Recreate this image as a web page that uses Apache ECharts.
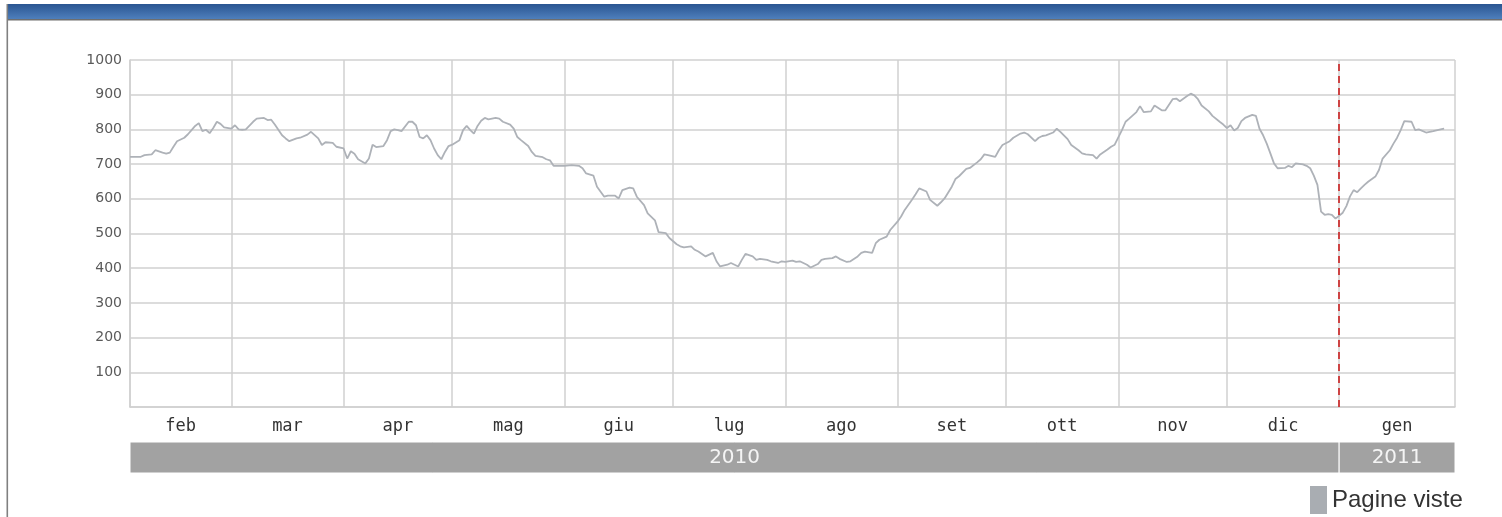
<!DOCTYPE html>
<html>
<head>
<meta charset="utf-8">
<script src="https://cdn.jsdelivr.net/npm/echarts@6/dist/echarts.min.js"></script>
<style>
html,body{margin:0;padding:0;background:#fff;}
#chart{width:1502px;height:517px;}
</style>
</head>
<body>
<div id="chart"></div>
<script>
// ---- data ----
const seriesName = 'Pagine viste';
const monthLabels = ['feb','mar','apr','mag','giu','lug','ago','set','ott','nov','dic','gen'];
const yearLabels = ['2010','2011'];
const yTicks = [100,200,300,400,500,600,700,800,900,1000];
// days counted from 1 Feb 2010
const dayOffsets = [
0,3,4,6,7,9,10,11,12,13,15,16,17,18,19,20,21,22,23,24,25,26,28,29,30,31,32,34,35,37,38,39,40,42,43,44,46,47,49,50,52,53,54,56,57,59,60,61,62,63,65,66,67,68,70,71,72,
73,74,75,77,78,79,80,81,82,83,84,85,86,87,88,89,91,92,93,94,95,96,97,98,99,101,102,103,105,106,107,108,110,111,112,114,115,116,117,119,120,122,124,125,126,128,129,131,132,134,135,136,138,139,140,142,143,145,146,
148,149,151,152,153,155,156,157,159,160,161,162,163,165,166,168,169,170,172,173,174,176,177,179,180,181,183,184,185,187,188,190,191,192,194,195,196,198,199,201,202,203,205,206,207,209,210,212,213,214,216,217,218,220,
221,223,224,225,227,228,229,231,232,234,235,236,237,239,240,241,243,244,246,247,248,250,251,252,253,255,256,257,259,260,262,263,264,266,267,268,270,271,272,274,275,276,278,279,280,282,283,285,286,288,289,290,292,
293,294,295,296,298,299,301,302,303,304,305,306,307,308,310,311,312,313,314,315,316,317,319,320,321,322,324,325,326,327,328,329,330,331,332,333,335,336,337,338,339,340,341,342,344,345,346,348,349,350,351,352,354,355,356,358,359,360,362,363
];
const pageViews = [
721,721,726,728,740,733,730,733,750,766,776,786,798,810,818,795,799,789,804,822,816,806,802,812,800,799,800,822,831,833,827,828,814,783,774,766,774,776,785,793,774,755,763,761,750,745,716,737,730,714,702,716,756,749,752,769,795,
800,798,795,822,822,812,778,774,783,769,745,726,714,735,752,756,769,798,810,798,788,810,825,833,829,833,831,822,814,802,778,769,752,735,724,720,714,711,695,695,695,697,695,688,673,667,635,606,609,609,601,625,632,630,606,582,558,538,504,
501,487,469,463,460,463,453,448,434,439,444,420,405,410,415,405,424,441,434,424,427,424,420,415,420,418,422,418,420,410,402,412,424,427,429,434,427,418,420,434,444,448,444,472,482,491,510,534,549,568,597,613,630,621,
597,580,590,601,635,657,665,686,689,705,714,728,726,721,740,755,766,776,788,791,786,766,776,781,783,791,802,793,772,755,740,731,728,726,716,728,742,750,756,798,822,831,850,867,850,852,869,855,855,887,889,881,896,
903,898,887,869,852,839,822,814,804,812,797,804,824,833,842,839,802,783,759,731,702,688,689,695,691,702,699,695,688,667,640,563,554,556,554,543,560,579,607,625,619,630,640,649,664,683,716,740,759,776,798,824,822,798,800,791,793,795,800,802
];

// ---- build ----
const DAY = 86400000;
const startT = Date.UTC(2010, 1, 1);
const toDay = t => Math.round((t - startT) / DAY);
const monthStarts = [];   // in days from 1 Feb 2010
for (let i = 0; i < 12; i++) monthStarts.push(toDay(Date.UTC(2010, 1 + i, 1)));
const axisEnd = toDay(Date.UTC(2011, 1, 2));   // axis runs to 2 Feb 2011
const boundaries = monthStarts.concat([axisEnd]);
const monthMids = [];
for (let i = 0; i < 12; i++) monthMids.push((boundaries[i] + boundaries[i + 1]) / 2);
const jan2011 = monthStarts[11];
const lineData = dayOffsets.map((d, i) => [d, pageViews[i]]);

const gridCol = '#d0d0d0';
const chart = echarts.init(document.getElementById('chart'), null, {renderer: 'canvas'});
chart.setOption({
  animation: false,
  backgroundColor: '#fff',
  graphic: [
    {type: 'rect', shape: {x: 7, y: 4, width: 1495, height: 15},
     style: {fill: new echarts.graphic.LinearGradient(0, 0, 0, 1, [
       {offset: 0, color: '#2a5591'}, {offset: 1, color: '#4e7fbc'}])}},
    {type: 'rect', shape: {x: 7, y: 19, width: 1495, height: 1.5}, style: {fill: '#6e6e6e'}},
    {type: 'rect', shape: {x: 6.5, y: 4, width: 1.6, height: 513}, style: {fill: '#808080'}}
  ],
  legend: {
    data: [seriesName],
    left: 1310, top: 486, padding: 0,
    icon: 'rect', itemWidth: 17, itemHeight: 28, itemGap: 6,
    itemStyle: {color: '#a9adb2'},
    textStyle: {fontFamily: 'Liberation Sans', fontSize: 24, color: '#333'}
  },
  grid: [
    {left: 130, right: 47, top: 60, bottom: 110, show: false},
    {left: 130, right: 47, top: 442, height: 31, show: false}
  ],
  xAxis: [
    {
      type: 'value', gridIndex: 0, min: 0, max: axisEnd,
      axisLine: {show: true, lineStyle: {color: gridCol, width: 1.5}},
      axisTick: {show: false, customValues: boundaries},
      splitLine: {show: true, lineStyle: {color: gridCol, width: 1.5}},
      axisLabel: {
        customValues: monthMids,
        formatter: (v) => monthLabels[monthMids.indexOf(v)],
        fontFamily: 'DejaVu Sans Mono', fontSize: 17, color: '#333333', margin: 11
      }
    },
    {
      type: 'value', gridIndex: 1, min: 0, max: axisEnd, show: false
    }
  ],
  yAxis: [
    {
      type: 'value', gridIndex: 0, min: 0, max: 1000, interval: 100,
      axisLine: {show: true, lineStyle: {color: gridCol, width: 1.5}},
      axisTick: {show: false},
      splitLine: {show: true, lineStyle: {color: gridCol, width: 1.5}},
      axisLabel: {
        formatter: v => (yTicks.indexOf(v) >= 0 ? String(v) : ''),
        fontFamily: 'DejaVu Sans', fontSize: 14, color: '#5a5a5a', margin: 8
      }
    },
    {type: 'value', gridIndex: 1, min: 0, max: 1, show: false}
  ],
  series: [
    {
      name: seriesName, type: 'line', xAxisIndex: 0, yAxisIndex: 0,
      data: lineData, showSymbol: false, symbol: 'none',
      lineStyle: {color: '#aeb2b8', width: 1.8},
      itemStyle: {color: '#aeb2b8'},
      markLine: {
        silent: true, symbol: 'none', animation: false,
        label: {show: false},
        lineStyle: {color: '#cc3333', type: [7, 5], width: 1.8},
        data: [{xAxis: jan2011}]
      }
    },
    {
      name: 'anni', type: 'line', xAxisIndex: 1, yAxisIndex: 1, data: [],
      markArea: {
        silent: true,
        itemStyle: {color: '#a2a2a2', borderColor: '#ffffff', borderWidth: 1},
        label: {show: true, position: 'inside', color: '#f4f4f4', fontFamily: 'DejaVu Sans', fontSize: 20},
        data: [
          [{xAxis: 0, name: yearLabels[0]}, {xAxis: jan2011}],
          [{xAxis: jan2011, name: yearLabels[1]}, {xAxis: axisEnd}]
        ]
      }
    }
  ]
});
</script>
</body>
</html>
